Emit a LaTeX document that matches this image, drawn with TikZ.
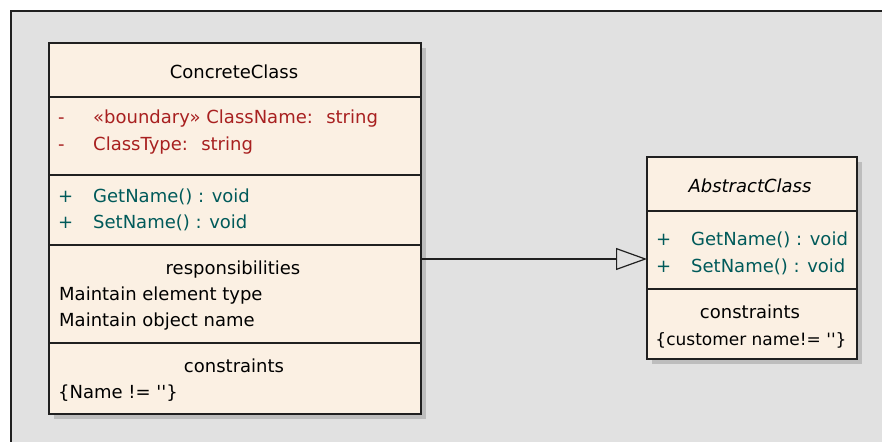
\documentclass[tikz,border=0pt]{standalone}
\usepackage{fontspec}
\setmainfont{DejaVu Sans}
\usetikzlibrary{arrows.meta,positioning,backgrounds}

\definecolor{classfill}{HTML}{FBF0E3}
\definecolor{canvas}{HTML}{E1E1E1}
\definecolor{attrred}{HTML}{A82020}
\definecolor{opteal}{HTML}{005A5A}
\definecolor{shadowgray}{HTML}{BDBDBD}
\definecolor{edge}{HTML}{202020}

\tikzset{
  compart/.style={draw=edge, fill=classfill, line width=1.4pt, rectangle,
    inner sep=0pt, outer sep=0pt},
  txt/.style={font=\fontsize{18}{21}\selectfont, inner sep=0pt, anchor=base west},
  ctxt/.style={txt, anchor=base},
  attr/.style={txt, text=attrred},
  oper/.style={txt, text=opteal},
  gen/.style={line width=1.2pt, draw=edge,
    -{Triangle[open, length=31pt, width=22pt, line width=1.2pt]}}
}

\begin{document}
\begin{tikzpicture}[x=1pt, y=-1pt]
\useasboundingbox (0,0) rectangle (882,441);
\clip (0,0) rectangle (882,441);

% ConcreteClass compartments
\node[compart, minimum width=372pt, minimum height=54pt] (cc-name) at (235,70) {};
\node[compart, minimum width=372pt, minimum height=78pt, below=0pt of cc-name] (cc-attr) {};
\node[compart, minimum width=372pt, minimum height=70pt, below=0pt of cc-attr] (cc-ops) {};
\node[compart, minimum width=372pt, minimum height=98pt, below=0pt of cc-ops] (cc-resp) {};
\node[compart, minimum width=372pt, minimum height=71pt, below=0pt of cc-resp] (cc-cons) {};

\node[ctxt] (cc-title) at (234,79) {ConcreteClass};
\node[attr] (cc-v1) at (58,124) {-};
\node[attr] (cc-a1) at (93,124) {«boundary» ClassName:~ string};
\node[attr] (cc-v2) at (58,150) {-};
\node[attr] (cc-a2) at (93,150) {ClassType:~ string};
\node[oper] (cc-v3) at (58,202) {+};
\node[oper] (cc-o1) at (93,202) {GetName() : void};
\node[oper] (cc-v4) at (58,228) {+};
\node[oper] (cc-o2) at (93,228) {SetName() : void};
\node[ctxt] (cc-resp-title) at (233,274) {responsibilities};
\node[txt] (cc-r1) at (59,300) {Maintain element type};
\node[txt] (cc-r2) at (59,326) {Maintain object name};
\node[ctxt] (cc-cons-title) at (234,372) {constraints};
\node[txt] (cc-c1) at (58,398) {\{Name != \textquotesingle\textquotesingle\}};

% AbstractClass compartments
\node[compart, minimum width=210pt, minimum height=54pt] (ac-name) at (752,184) {};
\node[compart, minimum width=210pt, minimum height=78pt, below=0pt of ac-name] (ac-ops) {};
\node[compart, minimum width=210pt, minimum height=70pt, below=0pt of ac-ops] (ac-cons) {};

\node[ctxt, font=\fontsize{18}{21}\selectfont\itshape] (ac-title) at (750,192) {AbstractClass};
\node[oper] (ac-v1) at (656,245) {+};
\node[oper] (ac-o1) at (691,245) {GetName() : void};
\node[oper] (ac-v2) at (656,272) {+};
\node[oper] (ac-o2) at (691,272) {SetName() : void};
\node[ctxt] (ac-cons-title) at (750,318) {constraints};
\node[ctxt, font=\fontsize{17}{21}\selectfont] (ac-c1) at (751,345) {\{customer name!= \textquotesingle\textquotesingle\}};

% generalization
\coordinate (gen-tip) at ([yshift=-9pt]ac-ops.west);
\draw[gen] (cc-resp.east |- gen-tip) -- (gen-tip);

% canvas, frame and shadows
\begin{scope}[on background layer]
\fill[white] (0,0) rectangle (882,441);
\fill[canvas] (11,11) rectangle (890,450);
\draw[edge, line width=1.4pt] (11,450) -- (11,11) -- (890,11);
\fill[shadowgray] ([shift={(5pt,-5pt)}]cc-name.north west) rectangle ([shift={(5pt,-5pt)}]cc-cons.south east);
\fill[shadowgray] ([shift={(5pt,-5pt)}]ac-name.north west) rectangle ([shift={(5pt,-5pt)}]ac-cons.south east);
\end{scope}
\end{tikzpicture}
\end{document}
